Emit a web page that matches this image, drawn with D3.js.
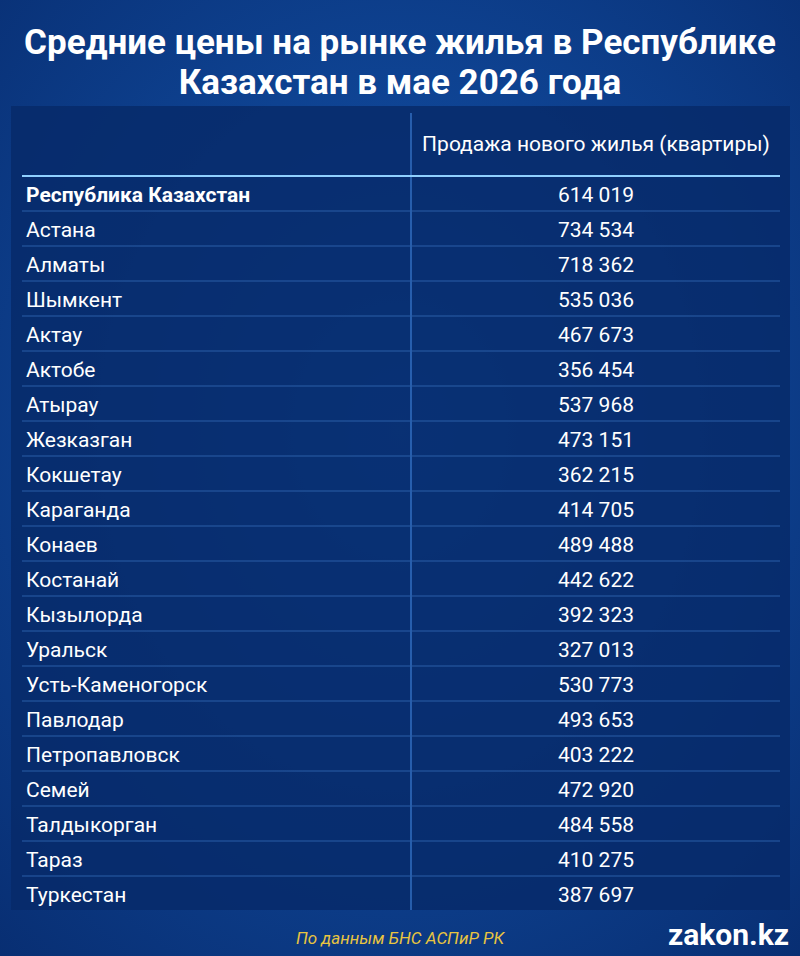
<!DOCTYPE html>
<html><head><meta charset="utf-8">
<script src="https://cdn.jsdelivr.net/npm/d3@7"></script>
<style>body{margin:0;background:#0b3a86}</style>
</head><body>
<svg id="c" width="800" height="956"></svg>
<script>
var cities = ["Республика Казахстан","Астана","Алматы","Шымкент","Актау","Актобе","Атырау","Жезказган","Кокшетау","Караганда","Конаев","Костанай","Кызылорда","Уральск","Усть-Каменогорск","Павлодар","Петропавловск","Семей","Талдыкорган","Тараз","Туркестан"];
var prices = [614019,734534,718362,535036,467673,356454,537968,473151,362215,414705,489488,442622,392323,327013,530773,493653,403222,472920,484558,410275,387697];
var titleLines = ["Средние цены на рынке жилья в Республике","Казахстан в мае 2026 года"];
var header = "Продажа нового жилья (квартиры)";

var svg = d3.select("#c");
var defs = svg.append("defs");
var g = defs.append("radialGradient").attr("id","bg").attr("cx","50%").attr("cy","45%").attr("r","75%");
g.append("stop").attr("offset","0%").attr("stop-color","#1456b0");
g.append("stop").attr("offset","100%").attr("stop-color","#082e72");
svg.append("rect").attr("width",800).attr("height",956).attr("fill","url(#bg)");

svg.selectAll("text.title").data(titleLines).enter().append("text")
  .attr("x",400).attr("y",function(d,i){return 54+i*40;})
  .attr("text-anchor","middle").attr("fill","#fff")
  .style("font","bold 35px Roboto").text(function(d){return d;});

svg.append("rect").attr("x",11).attr("y",106).attr("width",779).attr("height",804)
  .attr("fill","#072a6a").attr("opacity",0.85);

var y = d3.scaleBand().domain(cities).range([176,911]);
var colX = 411;
svg.append("line").attr("x1",colX).attr("x2",colX).attr("y1",113).attr("y2",910)
  .attr("stroke","#3d7fd6").attr("stroke-width",1.2);
svg.append("line").attr("x1",22).attr("x2",780).attr("y1",176).attr("y2",176)
  .attr("stroke","#8fd0ff").attr("stroke-width",2);
svg.append("text").attr("x",596).attr("y",151).attr("text-anchor","middle")
  .attr("fill","#fff").style("font","21px Roboto").text(header);

var rows = svg.selectAll("g.row").data(cities).enter().append("g")
  .attr("transform",function(d){return "translate(0,"+y(d)+")";});
rows.filter(function(d,i){return i>0;}).append("line")
  .attr("x1",22).attr("x2",780).attr("y1",0).attr("y2",0)
  .attr("stroke","#2a5fa8").attr("stroke-width",1);
rows.append("text").attr("x",26).attr("y",y.bandwidth()/2+8)
  .attr("fill","#fff").style("font",function(d,i){return (i===0?"bold ":"")+"21px Roboto";})
  .text(function(d){return d;});
var fmt = function(v){return d3.format(",")(v).replace(/,/g," ");};
rows.append("text").attr("x",596).attr("y",y.bandwidth()/2+8).attr("text-anchor","middle")
  .attr("fill","#fff").style("font","21px Roboto")
  .text(function(d,i){return fmt(prices[i]);});

svg.append("text").attr("x",400).attr("y",944).attr("text-anchor","middle")
  .attr("fill","#e8c440").style("font","italic 17px Roboto").text("По данным БНС АСПиР РК");
svg.append("text").attr("x",789).attr("y",945).attr("text-anchor","end")
  .attr("fill","#fff").style("font","bold 30px Roboto").text("zakon.kz");
</script>
</body></html>
